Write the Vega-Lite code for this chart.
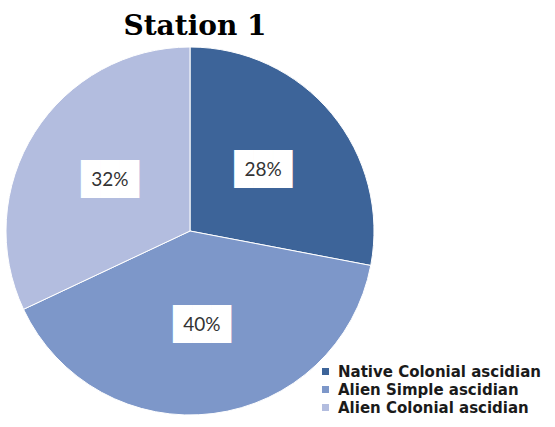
{
  "$schema": "https://vega.github.io/schema/vega-lite/v6.json",
  "width": 368,
  "height": 370,
  "autosize": "none",
  "padding": {"left": 6, "top": 46, "right": 181, "bottom": 11},
  "background": "white",
  "title": {"text": "Station 1", "font": "DejaVu Serif", "fontSize": 28, "fontWeight": "bold", "color": "black", "anchor": "middle", "offset": 4, "dx": 5},
  "data": {"values": [
    {"category": "Native  Colonial ascidian", "percent": 28, "rank": 1, "label": "28%"},
    {"category": "Alien  Simple ascidian", "percent": 40, "rank": 2, "label": "40%"},
    {"category": "Alien  Colonial ascidian", "percent": 32, "rank": 3, "label": "32%"}
  ]},
  "encoding": {
    "theta": {"field": "percent", "type": "quantitative", "stack": true},
    "order": {"field": "rank", "type": "quantitative"}
  },
  "layer": [
    {
      "mark": {"type": "arc", "stroke": "white", "strokeWidth": 1},
      "encoding": {
        "color": {
          "field": "category",
          "type": "nominal",
          "scale": {
            "domain": ["Native  Colonial ascidian", "Alien  Simple ascidian", "Alien  Colonial ascidian"],
            "range": ["#3d6499", "#7d97c9", "#b3bddf"]
          },
          "legend": {
            "orient": "none",
            "legendX": 312,
            "legendY": 318,
            "title": null,
            "symbolType": "square",
            "symbolSize": 49,
            "symbolStrokeWidth": 0,
            "labelFont": "DejaVu Sans",
            "labelFontSize": 15,
            "labelFontWeight": "bold",
            "labelColor": "#1a1a1a",
            "labelOffset": 5,
            "labelLimit": 300,
            "rowPadding": 2
          }
        }
      }
    },
    {
      "mark": {"type": "text", "radius": 95, "font": "DejaVu Sans Mono", "fontSize": 32, "color": "white", "baseline": "middle", "align": "center"},
      "encoding": {"text": {"value": "███"}}
    },
    {
      "mark": {"type": "text", "radius": 95, "font": "Lato", "fontSize": 19, "color": "#333333", "baseline": "middle", "align": "center"},
      "encoding": {"text": {"field": "label", "type": "nominal"}}
    }
  ]
}
